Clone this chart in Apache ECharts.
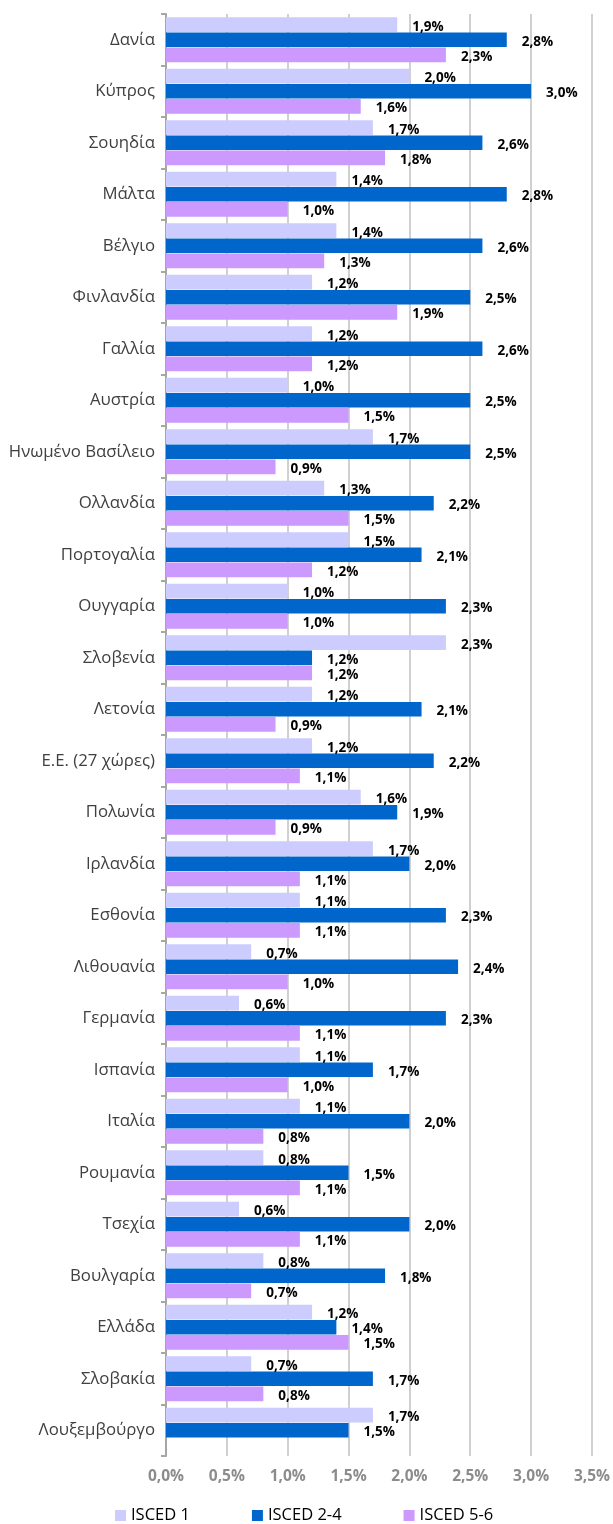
<!DOCTYPE html>
<html><head><meta charset="utf-8">
<script src="https://cdn.jsdelivr.net/npm/echarts@6/dist/echarts.min.js"></script>
<style>html,body{margin:0;padding:0;background:#fff}#c{width:613px;height:1524px}</style>
</head><body><div id="c"></div>
<script>
const categories = ["Δανία","Κύπρος","Σουηδία","Μάλτα","Βέλγιο","Φινλανδία","Γαλλία","Αυστρία","Ηνωμένο Βασίλειο","Ολλανδία","Πορτογαλία","Ουγγαρία","Σλοβενία","Λετονία","Ε.Ε. (27 χώρες)","Πολωνία","Ιρλανδία","Εσθονία","Λιθουανία","Γερμανία","Ισπανία","Ιταλία","Ρουμανία","Τσεχία","Βουλγαρία","Ελλάδα","Σλοβακία","Λουξεμβούργο"];
const isced1 = [1.9,2.0,1.7,1.4,1.4,1.2,1.2,1.0,1.7,1.3,1.5,1.0,2.3,1.2,1.2,1.6,1.7,1.1,0.7,0.6,1.1,1.1,0.8,0.6,0.8,1.2,0.7,1.7];
const isced24 = [2.8,3.0,2.6,2.8,2.6,2.5,2.6,2.5,2.5,2.2,2.1,2.3,1.2,2.1,2.2,1.9,2.0,2.3,2.4,2.3,1.7,2.0,1.5,2.0,1.8,1.4,1.7,1.5];
const isced56 = [2.3,1.6,1.8,1.0,1.3,1.9,1.2,1.5,0.9,1.5,1.2,1.0,1.2,0.9,1.1,0.9,1.1,1.1,1.0,1.1,1.0,0.8,1.1,1.1,0.7,1.5,0.8,null];
const seriesNames = ["ISCED 1","ISCED 2-4","ISCED 5-6"];
const colors = ["#ccccff","#0066cc","#cc99ff"];
const xTicks = [0,0.5,1.0,1.5,2.0,2.5,3.0,3.5];

const fmt = v => v.toFixed(1).replace('.', ',') + '%';
const font = "Open Sans";
const chart = echarts.init(document.getElementById('c'), null, {renderer:'canvas'});
const mk = (name, data, color) => ({
  name, type:'bar', data, barGap:'3%', barCategoryGap:'13%',
  itemStyle:{color},
  label:{show:true, position:'right', distance:15, offset:[0,2], formatter:p=>fmt(p.value),
    fontFamily:font, fontWeight:'bold', fontSize:13.5, color:'#000'}
});
chart.setOption({
  animation:false,
  grid:{left:166, right:20, top:14, bottom:68, containLabel:false},
  legend:{top:1502, left:110, itemWidth:11, itemHeight:11, itemGap:62, icon:'rect',
    textStyle:{fontFamily:font, fontSize:16.5, color:'#000'}, data:seriesNames},
  xAxis:{type:'value', min:xTicks[0], max:xTicks[xTicks.length-1], interval:0.5,
    axisLine:{show:false}, axisTick:{show:false},
    splitLine:{show:true, lineStyle:{color:'#c0c0c0', width:1.5}},
    axisLabel:{formatter:v=>fmt(v), fontFamily:font, fontWeight:'bold', fontSize:15.5, color:'#8c8c8c', margin:13}},
  yAxis:{type:'category', data:categories, inverse:true,
    axisLine:{show:true, lineStyle:{color:'#a6a6a6', width:2}},
    axisTick:{show:true, length:5, lineStyle:{color:'#a6a6a6', width:2}},
    axisLabel:{fontFamily:font, fontSize:16.8, color:'#404040', margin:11}},
  series:[mk(seriesNames[0], isced1, colors[0]), mk(seriesNames[1], isced24, colors[1]), mk(seriesNames[2], isced56, colors[2])]
});
</script></body></html>
